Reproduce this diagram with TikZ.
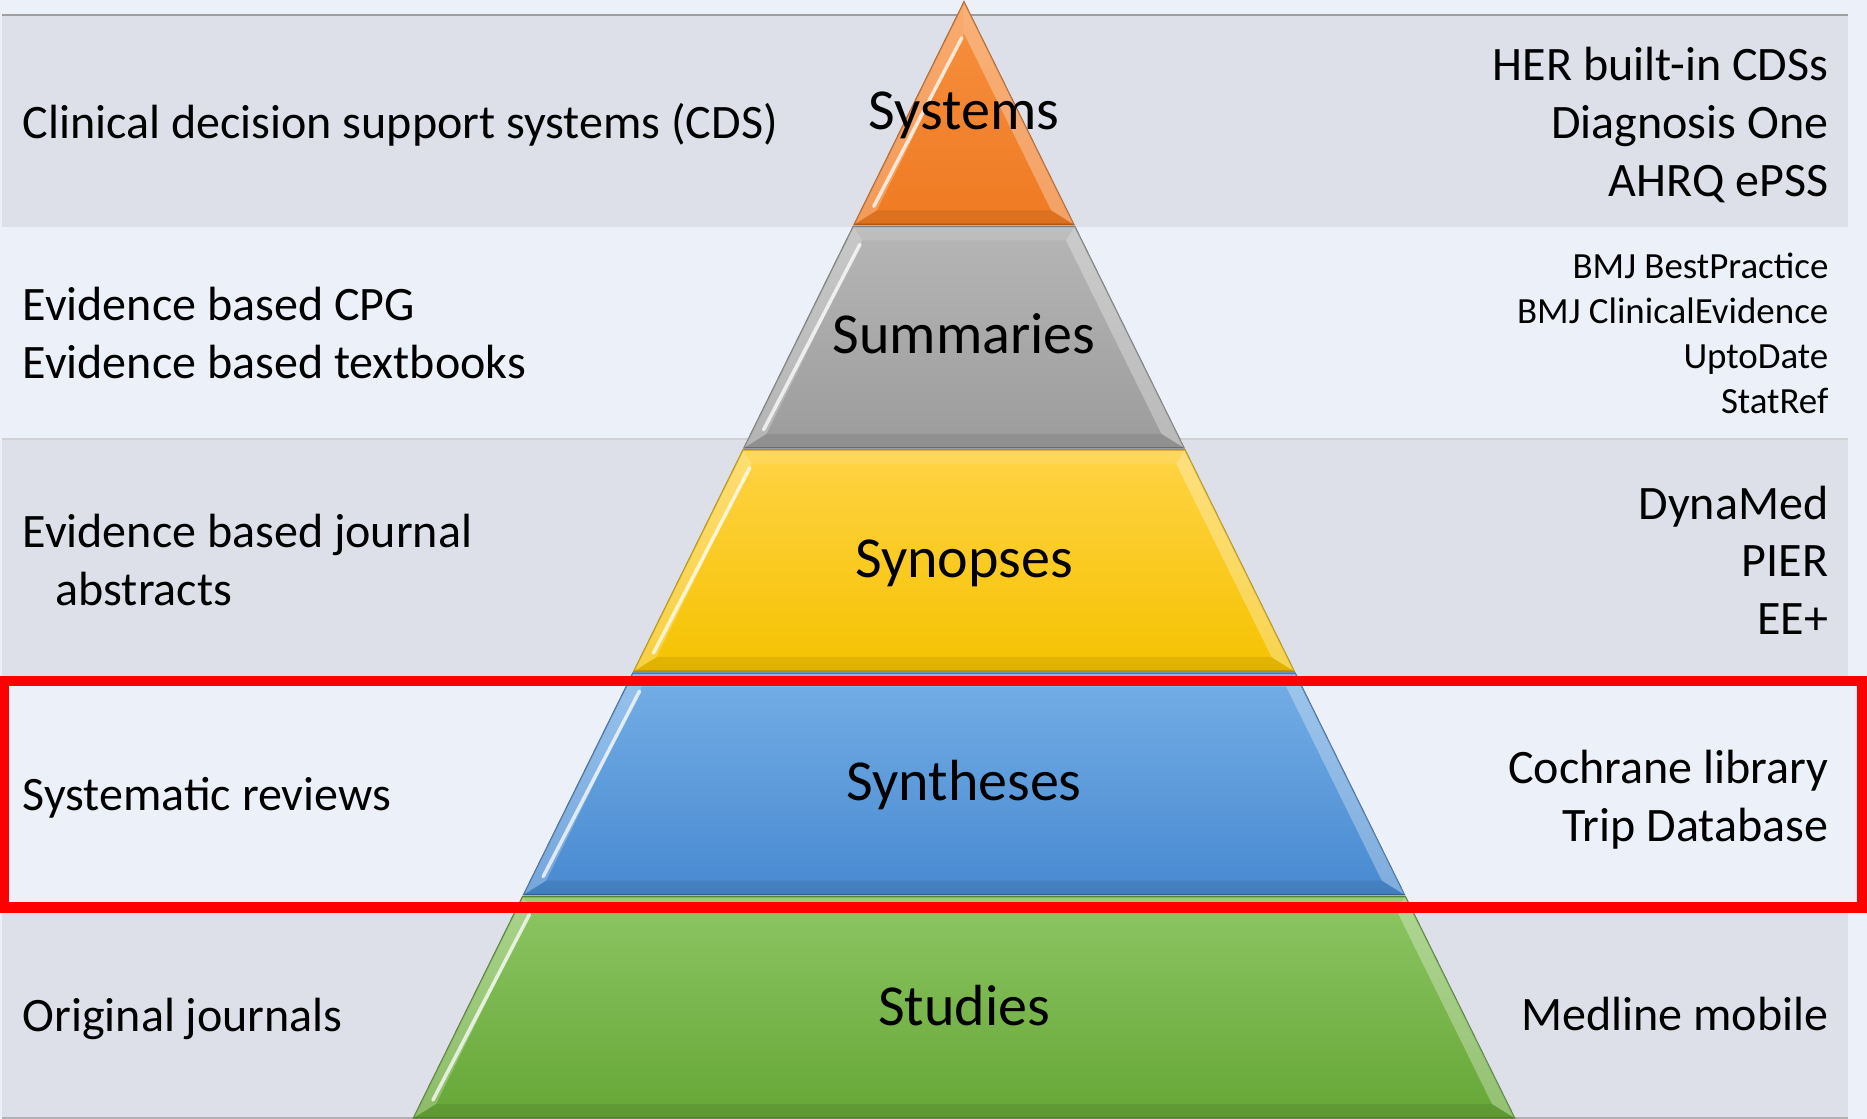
\documentclass[tikz,border=0pt]{standalone}
\usepackage{fontspec}
\setmainfont{Carlito}

\definecolor{bgdark}{HTML}{DDE0E8}
\definecolor{bglight}{HTML}{ECF0F8}
\definecolor{org1}{HTML}{F7903F}
\definecolor{org2}{HTML}{EF7A22}
\definecolor{gry1}{HTML}{B6B6B6}
\definecolor{gry2}{HTML}{9C9C9C}
\definecolor{yel1}{HTML}{FFD345}
\definecolor{yel2}{HTML}{F5C200}
\definecolor{blu1}{HTML}{74AEE6}
\definecolor{blu2}{HTML}{4889D0}
\definecolor{grn1}{HTML}{8DC664}
\definecolor{grn2}{HTML}{66A636}

\tikzset{
  lefttxt/.style={anchor=west, align=left, inner sep=0pt, font=\fontsize{13.66}{16.4}\selectfont},
  righttxt/.style={anchor=east, align=right, inner sep=0pt, font=\fontsize{13.66}{16.4}\selectfont},
  smalltxt/.style={anchor=east, align=right, inner sep=0pt, font=\fontsize{10.5}{12.8}\selectfont},
  lvltxt/.style={inner sep=0pt, font=\fontsize{16.5}{19.8}\selectfont},
}

\begin{document}
\begin{tikzpicture}[x=0.01cm,y=-0.01cm]
            \useasboundingbox (0,0) rectangle (1867,1119);
            \fill[bglight] (0,0) rectangle (1867,1119);
            \foreach \ya/\yb in {16/227,439/680,906/1117}
                \fill[bgdark] (2,\ya) rectangle (1848,\yb);
            \draw[gray!75, line width=0.7pt] (2,15) -- (1848,15);
            \draw[gray!35, line width=0.3pt] (2,439) -- (1848,439);
            \draw[gray!60, line width=0.4pt] (2,1118) -- (1848,1118);
            \foreach \k/\lab/\col/\ly in {0/Systems/org/115,1/Summaries/gry/334,2/Synopses/yel/563,3/Syntheses/blu/785,4/Studies/grn/1006} {
                \pgfmathsetmacro\ya{2+223.4*\k+(\k>0?1:0)}
                \pgfmathsetmacro\yb{2+223.4*(\k+1)-1}
                \pgfmathsetmacro\hwa{(\ya-2)*0.4933}
                \pgfmathsetmacro\hwb{(\yb-2)*0.4933}
                \pgfmathsetmacro\yc{max(\ya+14,33.6)}
                \pgfmathsetmacro\yd{\yb-14}
                \pgfmathsetmacro\hwc{max((\yc-2)*0.4933-15.6,0)}
                \pgfmathsetmacro\hwd{(\yd-2)*0.4933-15.6}
                \shadedraw[draw=\col2!75!black, line width=0.4pt, top color=\col1, bottom color=\col2]
                    (964-\hwa,\ya) -- (964+\hwa,\ya) -- (964+\hwb,\yb) -- (964-\hwb,\yb) -- cycle;
                \fill[white, opacity=0.25] (964-\hwa,\ya) -- (964-\hwc,\yc) -- (964-\hwd,\yd) -- (964-\hwb,\yb) -- cycle;
                \fill[white, opacity=0.3] (964+\hwa,\ya) -- (964+\hwc,\yc) -- (964+\hwd,\yd) -- (964+\hwb,\yb) -- cycle;
                \fill[white, opacity=0.12] (964-\hwa,\ya) -- (964-\hwc,\yc) -- (964+\hwc,\yc) -- (964+\hwa,\ya) -- cycle;
                \fill[black, opacity=0.08] (964-\hwb,\yb) -- (964-\hwd,\yd) -- (964+\hwd,\yd) -- (964+\hwb,\yb) -- cycle;
                \draw[white, opacity=0.75, line width=1pt, line cap=round] (964-\hwc-2,\yc+4) -- (964-\hwd-3,\yd-4);
                \node[lvltxt] (lvl\k) at (964,\ly) {\lab};
            }
            \node[lefttxt] (cds) at (22,125) {Clinical decision support systems (CDS)};
            \node[lefttxt] (cpg) at (22,333) {Evidence based CPG\\Evidence based textbooks};
            \node[lefttxt] (jour) at (22,560) {Evidence based journal\\\hspace*{0.33cm}abstracts};
            \node[lefttxt] (sysrev) at (22,798) {Systematic reviews};
            \node[lefttxt] (orig) at (22,1019) {Original journals};
            \node[righttxt] (her) at (1829,125) {HER built-in CDSs\\Diagnosis One\\AHRQ ePSS};
            \node[smalltxt] (bmj) at (1829,333) {BMJ BestPractice\\BMJ ClinicalEvidence\\UptoDate\\StatRef};
            \node[righttxt] (dyna) at (1829,560) {DynaMed\\PIER\\EE+};
            \node[righttxt] (coch) at (1829,800) {Cochrane library\\Trip Database};
            \node[righttxt] (medl) at (1829,1014) {Medline mobile};
            \draw[red, line width=3.1pt] (4,681) rectangle (1862,907.5);
        \end{tikzpicture}
\end{document}
